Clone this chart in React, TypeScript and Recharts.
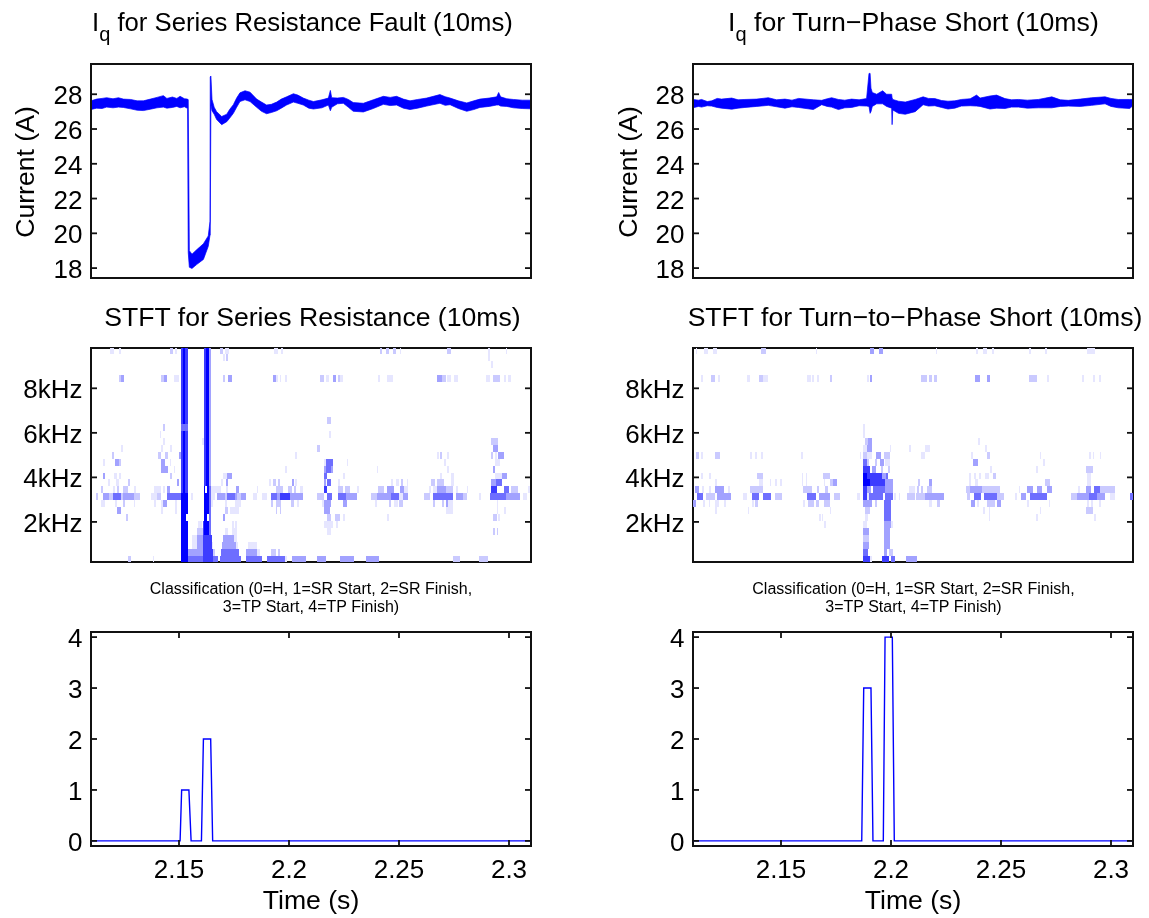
import React from "react";
import { Area, ComposedChart, Line, ReferenceArea, Scatter, XAxis, YAxis } from "recharts";

const FONT = "'Liberation Sans', Arial, sans-serif";
const BLUE = "#0000ff";

// [time (s), low, high] envelope of the noisy current trace
const srCurrent = [
  [2.11, 27.12, 27.62], [2.1125, 27.2, 27.72], [2.115, 27.18, 27.76], [2.1171, 27.26, 27.8], [2.12, 27.22, 27.74],
  [2.1225, 27.26, 27.8], [2.1247, 27.24, 27.72], [2.128, 27.16, 27.7], [2.131, 27.08, 27.62], [2.1338, 27.06, 27.62],
  [2.137, 27.14, 27.72], [2.14, 27.22, 27.82], [2.1429, 27.26, 27.92], [2.1445, 27.2, 27.76], [2.147, 27.24, 27.84],
  [2.149, 27.3, 27.76], [2.1505, 27.22, 27.88], [2.1525, 27.28, 27.74], [2.1539, 27.18, 27.72], [2.1542, 18.9, 27.68],
  [2.1547, 18.05, 19.0], [2.1559, 17.98, 18.8], [2.158, 18.2, 19.05], [2.1611, 18.5, 19.4], [2.1633, 19.25, 19.85],
  [2.1641, 19.9, 20.7], [2.1642, 19.9, 29.0], [2.1645, 27.4, 29.05], [2.165, 27.05, 27.7], [2.166, 26.85, 27.25],
  [2.1671, 26.55, 27.0], [2.1694, 26.25, 26.72], [2.1717, 26.42, 26.85], [2.173, 26.62, 27.12], [2.1747, 26.9, 27.4],
  [2.1762, 27.25, 27.78], [2.1777, 27.58, 28.08], [2.18, 27.68, 28.2], [2.1823, 27.58, 28.12], [2.1853, 27.25, 27.72],
  [2.1875, 27.02, 27.55], [2.1898, 26.88, 27.38], [2.192, 26.95, 27.42], [2.1944, 27.05, 27.55], [2.1965, 27.2, 27.72],
  [2.1989, 27.38, 27.85], [2.202, 27.55, 28.03], [2.204, 27.48, 27.95], [2.2065, 27.38, 27.78], [2.209, 27.2, 27.66],
  [2.2111, 27.15, 27.58], [2.215, 27.22, 27.68], [2.2179, 27.38, 27.78], [2.2188, 27.05, 28.22], [2.2194, 27.25, 27.8],
  [2.222, 27.45, 27.78], [2.2247, 27.48, 27.82], [2.227, 27.25, 27.7], [2.2292, 27.02, 27.52], [2.2338, 26.98, 27.48],
  [2.2383, 27.18, 27.68], [2.2429, 27.42, 27.88], [2.246, 27.35, 27.82], [2.2489, 27.38, 27.88], [2.252, 27.2, 27.72],
  [2.255, 27.12, 27.62], [2.2585, 27.2, 27.7], [2.2626, 27.32, 27.78], [2.2686, 27.48, 27.98], [2.271, 27.36, 27.86],
  [2.2732, 27.4, 27.78], [2.277, 27.18, 27.62], [2.2808, 27.02, 27.5], [2.284, 27.12, 27.62], [2.2868, 27.24, 27.72],
  [2.291, 27.3, 27.78], [2.2944, 27.38, 27.85], [2.2953, 27.38, 28.1], [2.2962, 27.32, 27.85], [2.299, 27.3, 27.74],
  [2.302, 27.22, 27.7], [2.306, 27.18, 27.66], [2.31, 27.16, 27.66],
];
const tpCurrent = [
  [2.11, 27.22, 27.7], [2.1125, 27.3, 27.66], [2.1139, 27.26, 27.7], [2.1165, 27.34, 27.58], [2.1185, 27.32, 27.62],
  [2.121, 27.24, 27.76], [2.123, 27.2, 27.72], [2.1276, 27.14, 27.78], [2.1305, 27.2, 27.68], [2.1336, 27.24, 27.7],
  [2.139, 27.3, 27.72], [2.1442, 27.36, 27.8], [2.148, 27.28, 27.68], [2.1518, 27.2, 27.72], [2.155, 27.28, 27.66],
  [2.158, 27.24, 27.76], [2.1647, 27.12, 27.68], [2.1685, 27.4, 27.65], [2.171, 27.3, 27.74], [2.173, 27.26, 27.8],
  [2.1761, 27.12, 27.7], [2.179, 27.22, 27.66], [2.1821, 27.24, 27.72], [2.1855, 27.34, 27.68], [2.1889, 27.32, 27.75],
  [2.19, 27.3, 29.2], [2.1905, 26.9, 29.2], [2.1909, 27.0, 28.35], [2.1915, 27.3, 28.1], [2.1935, 27.45, 28.0],
  [2.1962, 27.45, 28.2], [2.198, 27.3, 28.0], [2.2003, 27.2, 28.0], [2.2005, 26.25, 27.8], [2.2008, 27.1, 27.7],
  [2.2034, 26.9, 27.6], [2.2065, 26.85, 27.55], [2.211, 27.0, 27.7], [2.2146, 27.4, 27.85], [2.217, 27.32, 27.76],
  [2.2199, 27.34, 27.75], [2.223, 27.24, 27.64], [2.2259, 27.15, 27.6], [2.229, 27.2, 27.62], [2.232, 27.32, 27.7],
  [2.236, 27.34, 27.74], [2.2389, 27.32, 27.95], [2.2405, 27.3, 27.78], [2.245, 27.15, 27.9], [2.248, 27.2, 27.95],
  [2.2518, 27.18, 27.75], [2.2548, 27.26, 27.68], [2.2579, 27.26, 27.7], [2.262, 27.2, 27.66], [2.267, 27.22, 27.7],
  [2.2731, 27.22, 27.85], [2.277, 27.3, 27.68], [2.2806, 27.32, 27.65], [2.286, 27.3, 27.72], [2.2912, 27.36, 27.8],
  [2.2973, 27.45, 27.85], [2.3, 27.3, 27.76], [2.3033, 27.22, 27.7], [2.3085, 27.18, 27.7], [2.31, 27.35, 27.7],
];

const srClassTimes = [2.11, 2.1505, 2.1512, 2.1545, 2.1555, 2.1602, 2.1611, 2.1644, 2.1653, 2.31];
const srClassValues = [0, 0, 1, 1, 0, 0, 2, 2, 0, 0];
const tpClassTimes = [2.11, 2.1867, 2.1876, 2.1909, 2.1918, 2.1965, 2.1973, 2.2006, 2.2015, 2.31];
const tpClassValues = [0, 0, 3, 3, 0, 0, 4, 4, 0, 0];

// STFT cells: row number n is n x 312.5 Hz, [startBin, endBin, shade 1-6]; a bin is 1/220 of the 0.2 s window
const srRows: Record<number, number[][]> = {
  31: [[9.5, 11.5, 1], [14, 15, 1], [39.5, 41, 2], [42, 43, 1], [64.5, 66, 2], [67, 69, 1], [91.5, 93.5, 1], [95, 96, 1], [144.5, 145.5, 2], [147.5, 149, 2], [151, 152.5, 2], [154.5, 155, 1], [178, 180, 2], [198.5, 199.5, 1], [207.5, 208, 1]],
  30: [[66, 67, 1], [67.5, 68.5, 2], [198.5, 199.5, 1]],
  29: [[200, 201, 1]],
  27: [[14, 15, 2], [15, 16.5, 3], [35, 36.5, 2], [36.5, 38, 3], [41.5, 44, 1], [66, 67, 2], [68.5, 70.5, 3], [91, 92.5, 3], [92.5, 93.5, 1], [94.5, 95, 1], [97, 98, 1], [114.5, 116.5, 2], [117.5, 119, 1], [121, 122.5, 3], [123.5, 124.5, 2], [124.5, 126, 1], [143.5, 144.5, 1], [148, 151, 1], [173, 175.5, 3], [175.5, 177.5, 2], [178, 180, 1], [181.5, 183.5, 1], [197.5, 199.5, 1], [201, 202.5, 2], [202.5, 204.5, 2], [206.5, 207.5, 1], [208.5, 210, 1]],
  21: [[118, 120, 2]],
  20: [[36, 37, 2]],
  19: [[34.5, 35, 1], [119, 120, 1]],
  18: [[36, 37, 1], [55.5, 56.5, 1], [200, 203.5, 2]],
  17: [[15, 16, 1], [35, 36, 1], [39.5, 40.5, 1], [113, 114.5, 2], [201, 203.5, 3]],
  16: [[10.5, 11.5, 2], [33.5, 35, 2], [37, 38.5, 2], [44, 45, 3], [102, 103, 1], [173, 174, 1], [174.5, 175.5, 2], [178, 179, 1], [200, 201, 2], [202, 203, 1], [203.5, 206.5, 3]],
  15: [[6, 7, 1], [12, 14, 3], [14, 15, 2], [35, 37, 3], [39.5, 40, 1], [116.5, 117.5, 1], [117.5, 121, 4], [128, 128.5, 1], [176.5, 177.5, 1], [202, 204.5, 1]],
  14: [[35, 38.5, 3], [41.5, 42, 1], [97, 98, 1], [116.5, 117.5, 3], [117.5, 120, 4], [120, 121, 3], [143, 143.5, 1], [178, 179, 1], [201, 202, 3]],
  13: [[6, 7, 3], [11.5, 13, 1], [14, 15, 1], [39.5, 40.5, 2], [66, 68, 1], [68, 70.5, 3], [116.5, 118, 4], [126, 127, 1], [174.5, 175.5, 1], [180, 181.5, 1], [202, 205.5, 1], [205.5, 208, 3]],
  12: [[8.5, 9.5, 1], [12.5, 14, 1], [18.5, 19.5, 2], [43, 44, 3], [65, 66, 1], [67.5, 68.5, 3], [89, 90, 1], [91, 92.5, 2], [93.5, 94.5, 2], [100.5, 101.5, 3], [102, 103, 1], [116.5, 117.5, 3], [118, 120, 4], [123.5, 124.5, 1], [150, 151, 1], [152.5, 154, 1], [155, 156, 2], [158, 158.5, 1], [170, 172, 2], [173, 176.5, 2], [180, 181.5, 1], [200, 202.5, 3], [202.5, 205.5, 4]],
  11: [[5, 6, 2], [11, 12, 1], [13, 14, 2], [16, 18.5, 2], [21.5, 22.5, 1], [31.5, 35, 1], [36, 37, 1], [38, 39.5, 3], [60, 65, 1], [67.5, 68.5, 1], [72.5, 74, 3], [83, 83.5, 1], [92.5, 96, 2], [98.5, 100.5, 2], [101.5, 102.5, 2], [104.5, 106, 1], [116.5, 118, 5], [123.5, 126, 2], [127, 129.5, 2], [133, 134, 1], [143.5, 146.5, 2], [148, 151.5, 3], [154.5, 156.5, 3], [156.5, 158.5, 1], [169, 170, 1], [171, 173, 1], [173, 177.5, 3], [177.5, 181, 2], [182.5, 183.5, 1], [188, 188.5, 1], [200, 203, 5], [206.5, 209, 4], [210, 213.5, 2], [218.5, 219.5, 1]],
  10: [[2.5, 3.5, 2], [6, 9, 3], [9, 11, 2], [11, 15, 4], [15, 16, 2], [16, 21.5, 3], [21.5, 24.5, 2], [30, 33, 1], [33, 35, 2], [38, 45, 4], [50, 51, 1], [60, 62, 1], [63, 67, 3], [67, 68, 2], [68, 72, 4], [72, 73, 3], [73, 75, 2], [75, 77.5, 3], [81, 83, 1], [85.5, 88, 1], [90, 93, 4], [93, 94.5, 3], [94.5, 99.5, 5], [99.5, 102.5, 3], [102.5, 106, 3], [113, 116.5, 2], [118, 120.5, 4], [123.5, 127.5, 4], [127.5, 133, 3], [140, 143, 2], [143, 150, 3], [150, 154, 4], [154, 156, 1], [156, 158.5, 3], [166.5, 169.5, 2], [171, 174, 4], [174, 181, 4], [182.5, 186, 3], [186, 188, 2], [194, 195, 1], [199.5, 207.5, 4], [207.5, 214.5, 3], [216, 218, 1]],
  9: [[5, 7, 1], [12, 13, 1], [16, 17, 2], [21.5, 22, 1], [31.5, 32.5, 1], [35, 36, 1], [36, 38, 3], [42, 43, 1], [60, 61, 1], [67, 68, 1], [72, 75, 1], [90, 91, 2], [92.5, 95, 2], [100, 101.5, 2], [103, 104, 1], [115.5, 116.5, 1], [116.5, 120, 3], [126, 128, 3], [142, 143, 1], [149, 150, 2], [151.5, 153.5, 1], [154, 156, 2], [171, 172, 2], [175.5, 176.5, 2], [177.5, 178.5, 3], [178.5, 181, 1], [203, 203.5, 1]],
  8: [[13, 15, 3], [35, 36, 1], [42, 43, 1], [67, 68.5, 2], [69.5, 74, 1], [92.5, 93, 2], [94.5, 95, 2], [116.5, 119.5, 3], [177.5, 181, 1], [203, 203.5, 1], [206.5, 207.5, 1]],
  7: [[17.5, 18.5, 2], [66, 67, 3], [118, 120, 2], [122, 124.5, 2], [126, 127, 1], [148, 149, 1], [201, 203, 2], [203.5, 204.5, 1]],
  6: [[53.5, 55.5, 1], [70.5, 71.5, 1], [72, 73, 1], [116.5, 121, 1], [122.5, 123.5, 1]],
  5: [[53, 56, 2], [67, 68.5, 1], [70.5, 73, 1], [118, 120, 1], [201, 202, 2], [203, 203.5, 2]],
  4: [[50.5, 53, 1], [53, 56, 3], [66, 71.5, 3], [71.5, 73, 1]],
  3: [[50.5, 53, 1], [53, 56, 3], [60, 61, 1], [65.5, 72.5, 3], [72.5, 73.5, 1], [78.5, 83, 1]],
  2: [[48.5, 56, 3], [60, 62, 2], [65, 74, 4], [77.5, 83, 3], [83, 84.5, 1], [90, 92.5, 2], [93.5, 94.5, 2]],
  1: [[18.5, 20, 2], [31, 31.5, 1], [48.5, 56, 4], [60, 63.5, 4], [64.5, 75, 4], [77.5, 85.5, 4], [88, 97, 4], [97, 98, 1], [100.5, 107.5, 3], [113, 117.5, 3], [124.5, 131.5, 3], [137.5, 144, 3], [181, 184.5, 2], [194, 198.5, 2]],
};
// the two saturated fault columns: [lowRow, highRow, startBin, endBin, shade], shade 0 is a hole
const srBands = [
  [21, 31, 45, 46, 5], [21, 31, 46, 47, 6], [21, 31, 47, 48.5, 5], [20, 20, 45, 48.5, 4],
  [11, 19, 45, 46, 5], [11, 19, 46, 47, 6], [11, 19, 47, 48.5, 5], [1, 10, 45, 48.5, 6],
  [7, 7, 47.5, 48.5, 0], [12, 31, 56.5, 57.5, 5], [12, 31, 57.5, 59, 6], [12, 31, 59, 60, 3],
  [1, 11, 56.5, 59, 6], [1, 11, 59, 60, 4], [11, 11, 57, 58, 0], [7, 7, 58, 59, 0],
  [5, 6, 56, 56.5, 5], [1, 4, 56, 60.5, 5], [1, 2, 60, 61, 5],
];
const tpRows: Record<number, number[][]> = {
  31: [[1.5, 2, 1], [5.5, 7.5, 1], [10, 12, 1], [34, 36.5, 2], [61.5, 62, 1], [88.5, 90.5, 3], [93, 95, 3], [121.5, 122, 1], [141.5, 142.5, 1], [145, 147, 1], [149.5, 150.5, 1], [168, 169, 1], [176, 177, 1], [197, 201, 1]],
  27: [[4, 5, 1], [9, 11, 2], [12.5, 13.5, 1], [27, 28.5, 1], [33, 35, 2], [35, 37.5, 1], [57, 59, 1], [59.5, 60.5, 1], [62, 63, 1], [68.5, 69.5, 2], [87, 88, 1], [88.5, 89.5, 3], [114, 117, 2], [118, 119.5, 2], [120.5, 122, 2], [141, 143.5, 3], [147, 148.5, 3], [168, 172, 2], [177, 178, 1], [194.5, 195.5, 1], [200, 201, 1], [203, 204, 1]],
  20: [[85, 86, 1]],
  19: [[85, 86, 1]],
  18: [[86, 87.5, 2], [87.5, 89.5, 3], [142.5, 143.5, 1]],
  17: [[85, 87, 1], [87, 89.5, 3], [98.5, 99, 1], [108, 109, 1], [116, 118.5, 1], [146, 147, 1]],
  16: [[1.5, 3, 2], [4, 5, 1], [11, 13.5, 2], [28.5, 29.5, 1], [31, 32, 1], [34, 35, 1], [54, 55, 1], [83.5, 84, 1], [85, 87, 2], [87, 89.5, 1], [91.5, 94, 3], [95.5, 98.5, 2], [114, 116, 1], [139, 140, 1], [147, 148.5, 2], [173.5, 174, 1], [198, 199, 1], [200, 200.5, 1], [203.5, 204, 1]],
  15: [[85, 87, 4], [87, 88, 2], [91, 92, 2], [93.5, 95.5, 3], [96, 98.5, 1], [140, 142.5, 3], [175, 176, 1]],
  14: [[85, 88.5, 5], [89.5, 91.5, 3], [94, 95, 2], [97.5, 98.5, 2], [148.5, 149.5, 1], [171.5, 172.5, 1], [196.5, 200, 2]],
  13: [[4, 5, 1], [8, 9, 1], [32, 35, 2], [54.5, 55, 1], [56.5, 57, 1], [65, 68.5, 2], [85, 87, 6], [87, 94.5, 5], [94.5, 96.5, 3], [96.5, 97.5, 4], [138, 139, 1], [140.5, 141.5, 1], [143, 144, 1], [146, 148, 1], [150, 151.5, 2], [197, 199, 1]],
  12: [[11, 12, 1], [33, 35, 1], [38.5, 39, 1], [41, 42, 1], [43.5, 44.5, 1], [54.5, 55, 1], [56.5, 57, 1], [65.5, 66, 1], [68.5, 70, 2], [70, 72, 3], [85, 88.5, 6], [88.5, 96, 5], [96, 100, 3], [112.5, 113.5, 2], [118, 119.5, 3], [138, 139, 1], [141, 142.5, 1], [176, 178.5, 2], [197, 199, 1]],
  11: [[1, 3, 3], [4.5, 5.5, 1], [8, 9, 1], [11, 15.5, 3], [17.5, 18.5, 1], [28.5, 35, 2], [55, 59.5, 2], [62, 63, 2], [66, 67.5, 2], [85, 87, 5], [87, 89, 3], [90, 96, 4], [96, 100, 3], [108, 111, 1], [112, 113, 2], [114, 115, 2], [117, 119.5, 2], [136.5, 138.5, 2], [138.5, 144.5, 3], [144.5, 153.5, 2], [163, 163.5, 1], [167, 170, 3], [172, 174.5, 3], [177, 179.5, 3], [192.5, 193.5, 1], [196.5, 199, 3], [200.5, 203.5, 4], [203.5, 211, 2]],
  10: [[2, 5, 4], [6.5, 11, 2], [12, 19, 3], [25, 27, 1], [29.5, 33, 4], [35, 39, 4], [41, 44.5, 2], [57, 61.5, 4], [63, 68.5, 3], [70.5, 73.5, 2], [82, 83.5, 1], [85, 87, 5], [87, 88, 1], [88, 95, 4], [96, 100, 4], [100.5, 101.5, 1], [103, 103.5, 1], [107, 111, 2], [111.5, 116, 2], [116, 125.5, 3], [137, 138.5, 2], [140.5, 144, 4], [145.5, 152, 4], [152, 155.5, 2], [161, 162, 1], [164, 166.5, 3], [168.5, 177, 4], [189, 192, 2], [192, 198, 3], [198, 202, 4], [202, 206, 3], [208.5, 211, 1], [218.5, 220, 4]],
  9: [[0, 1.5, 3], [5, 6, 1], [8, 8.5, 1], [11, 13, 1], [15.5, 16.5, 1], [29.5, 30.5, 1], [31, 32.5, 2], [55, 56, 1], [57.5, 60.5, 2], [61.5, 63, 2], [65.5, 68.5, 2], [85, 89.5, 3], [91, 92, 2], [95.5, 99, 4], [118, 119.5, 1], [122, 123.5, 2], [139, 141, 3], [142, 143, 1], [147, 151, 2], [152, 154, 3], [167, 168, 1], [178, 178.5, 1], [197, 198, 1], [199, 200, 1], [203, 204, 1]],
  8: [[11, 12, 1], [27.5, 28, 1], [68.5, 69, 1], [86, 88.5, 2], [95.5, 99, 4], [145, 146, 1], [148, 148.5, 1], [173.5, 174, 1], [196.5, 200, 2]],
  7: [[63, 64, 1], [64.5, 65, 1], [86, 87.5, 1], [95.5, 99, 4], [148, 148.5, 1], [171.5, 172.5, 1], [200.5, 201.5, 1]],
  6: [[65.5, 66.5, 1], [85, 87, 1], [95.5, 99, 3], [99, 100, 1]],
  5: [[85, 88, 3], [95.5, 98.5, 3]],
  4: [[85, 88, 2], [95.5, 98.5, 3]],
  3: [[85, 88, 3], [95.5, 98.5, 3]],
  2: [[85, 87.5, 4], [95.5, 97, 3], [98, 100, 2]],
  1: [[85, 88.5, 5], [88.5, 89.5, 1], [94.5, 98, 5], [99, 101, 4], [106.5, 112, 3]],
};

const currentTicks = [18, 20, 22, 24, 26, 28];
const freqTicks = [2, 4, 6, 8];
const classTicks = [0, 1, 2, 3, 4];
const timeTicks = [2.15, 2.2, 2.25, 2.3];

const shades = ["#ffffff", "#e6e6ff", "#cacaff", "#a2a2ff", "#6e6eff", "#3c3cff", "#0000ff"];

const PLOT_W = 440;
const PLOT_H = 214;
const LEFT = 75;
const TOP = 20;
const BINS = 220;
const TIME_SPAN = 0.2;
const ROW_KHZ = 0.3125;
const FREQ_DOMAIN = [0.2, 9.81];
const TIME_DOMAIN = [2.11, 2.31];

const binToTime = (b: number) => 2.11 + (b * TIME_SPAN) / BINS;

const toCells = (rows: Record<number, number[][]>, bands: number[][]) => {
  const cells: any[] = [];
  Object.keys(rows).forEach((k) => {
    const n = Number(k);
    rows[n].forEach(([a, b, s]) => cells.push({ t: binToTime((a + b) / 2), f: n * ROW_KHZ, w: b - a, s }));
  });
  bands.forEach(([lo, hi, a, b, s]) => {
    for (let n = lo; n <= hi; n++) cells.push({ t: binToTime((a + b) / 2), f: n * ROW_KHZ, w: b - a, s });
  });
  return cells;
};

const toBand = (rows: number[][]) => rows.map(([t, lo, hi]) => ({ t, band: [lo, hi] }));
const toClass = (times: number[], values: number[]) => times.map((t, i) => ({ t, v: values[i] }));

// matlab style: ticks point inwards on both sides of the box
const yTick = (fmt: (v: number) => string) => (props: any) => {
  const { x, y, payload } = props;
  return (
    <g>
      <line x1={x} x2={x + 6} y1={y} y2={y} stroke="#111" strokeWidth={1.8} />
      <line x1={x + PLOT_W - 6} x2={x + PLOT_W} y1={y} y2={y} stroke="#111" strokeWidth={1.8} />
      <text x={x - 8.5} y={y + 10} textAnchor="end" fontFamily={FONT} fontSize={26} fill="#000">
        {fmt(payload.value)}
      </text>
    </g>
  );
};

const xTick = (props: any) => {
  const { x, y, payload } = props;
  return (
    <g>
      <line x1={x} x2={x} y1={y} y2={y - 6} stroke="#111" strokeWidth={1.8} />
      <line x1={x} x2={x} y1={y - PLOT_H} y2={y - PLOT_H + 6} stroke="#111" strokeWidth={1.8} />
      <text x={x} y={y + 32} textAnchor="middle" fontFamily={FONT} fontSize={26} fill="#000">
        {payload.value}
      </text>
    </g>
  );
};

const cellShape = (props: any) => {
  const { cx, cy, payload } = props;
  const w = (payload.w * PLOT_W) / BINS;
  const h = (ROW_KHZ * PLOT_H) / (FREQ_DOMAIN[1] - FREQ_DOMAIN[0]);
  return <rect x={cx - w / 2} y={cy - h / 2} width={w} height={h} fill={shades[payload.s]} shapeRendering="crispEdges" />;
};

const Frame = ({ left, top, data, yDomain, ticks, fmt = String, xTicks, children }: any) => (
  <div style={{ position: "absolute", left: left - LEFT, top: top - TOP }}>
    <ComposedChart
      width={LEFT + PLOT_W + 10}
      height={TOP + PLOT_H + 50}
      data={data}
      margin={{ top: TOP, right: 10, bottom: 0, left: 0 }}
    >
      <XAxis
        dataKey="t"
        type="number"
        domain={TIME_DOMAIN}
        ticks={xTicks || []}
        interval={0}
        height={50}
        tickLine={false}
        tickSize={0}
        tickMargin={0}
        tick={xTicks ? xTick : false}
        axisLine={false}
        allowDataOverflow
      />
      <YAxis
        type="number"
        domain={yDomain}
        ticks={ticks}
        interval={0}
        width={LEFT}
        tickLine={false}
        tickSize={0}
        tickMargin={0}
        tick={yTick(fmt)}
        axisLine={false}
        allowDataOverflow
      />
      {children}
      <ReferenceArea x1={TIME_DOMAIN[0]} x2={TIME_DOMAIN[1]} y1={yDomain[0]} y2={yDomain[1]} fill="none" stroke="#111" strokeWidth={2} />
    </ComposedChart>
  </div>
);

const CurrentPanel = ({ left, rows }: any) => (
  <Frame left={left} top={63.5} data={toBand(rows)} yDomain={[17.43, 29.74]} ticks={currentTicks}>
    <Area type="linear" dataKey="band" stroke={BLUE} strokeWidth={0.7} fill={BLUE} fillOpacity={1} dot={false} activeDot={false} isAnimationActive={false} />
  </Frame>
);

const StftPanel = ({ left, cells }: any) => (
  <Frame left={left} top={347.5} yDomain={FREQ_DOMAIN} ticks={freqTicks} fmt={(v: number) => `${v}kHz`}>
    <Scatter data={cells} dataKey="f" shape={cellShape} isAnimationActive={false} />
  </Frame>
);

const ClassPanel = ({ left, times, values }: any) => (
  <Frame left={left} top={631.5} data={toClass(times, values)} yDomain={[-0.1, 4.1]} ticks={classTicks} xTicks={timeTicks}>
    <Line type="linear" dataKey="v" stroke={BLUE} strokeWidth={1.4} dot={false} activeDot={false} isAnimationActive={false} />
  </Frame>
);

const textStyle = { fontFamily: FONT, fontSize: 26.6, fill: "#000" };
const smallStyle = { fontFamily: FONT, fontSize: 16, fill: "#000" };

const Labels = () => (
  <svg width={1149} height={918} style={{ position: "absolute", left: 0, top: 0, pointerEvents: "none" }}>
    <text x={92} y={31} {...textStyle} fontSize={25.7}>
      I<tspan dy={10} fontSize={20}>q</tspan>
      <tspan dy={-10}> for Series Resistance Fault (10ms)</tspan>
    </text>
    <text x={728} y={31} {...textStyle} fontSize={26.7}>
      I<tspan dy={10} fontSize={20}>q</tspan>
      <tspan dy={-10}> for Turn−Phase Short (10ms)</tspan>
    </text>
    <text x={312.5} y={326} textAnchor="middle" {...textStyle}>STFT for Series Resistance (10ms)</text>
    <text x={915} y={326} textAnchor="middle" {...textStyle}>STFT for Turn−to−Phase Short (10ms)</text>
    <text x={311} y={594} textAnchor="middle" {...smallStyle}>Classification (0=H, 1=SR Start, 2=SR Finish,</text>
    <text x={311} y={612} textAnchor="middle" {...smallStyle}>3=TP Start, 4=TP Finish)</text>
    <text x={913.5} y={594} textAnchor="middle" {...smallStyle}>Classification (0=H, 1=SR Start, 2=SR Finish,</text>
    <text x={913.5} y={612} textAnchor="middle" {...smallStyle}>3=TP Start, 4=TP Finish)</text>
    <text x={311} y={909} textAnchor="middle" {...textStyle}>Time (s)</text>
    <text x={913} y={909} textAnchor="middle" {...textStyle}>Time (s)</text>
    <text transform="translate(34,172) rotate(-90)" textAnchor="middle" {...textStyle}>Current (A)</text>
    <text transform="translate(637,172) rotate(-90)" textAnchor="middle" {...textStyle}>Current (A)</text>
  </svg>
);

export default function App() {
  return (
    <div style={{ position: "absolute", left: 0, top: 0, width: 1149, height: 918, background: "#fff", overflow: "hidden", filter: "blur(0.4px)" }}>
      <CurrentPanel left={91} rows={srCurrent} />
      <CurrentPanel left={693} rows={tpCurrent} />
      <StftPanel left={91} cells={toCells(srRows, srBands)} />
      <StftPanel left={693} cells={toCells(tpRows, [])} />
      <ClassPanel left={91} times={srClassTimes} values={srClassValues} />
      <ClassPanel left={693} times={tpClassTimes} values={tpClassValues} />
      <Labels />
    </div>
  );
}
